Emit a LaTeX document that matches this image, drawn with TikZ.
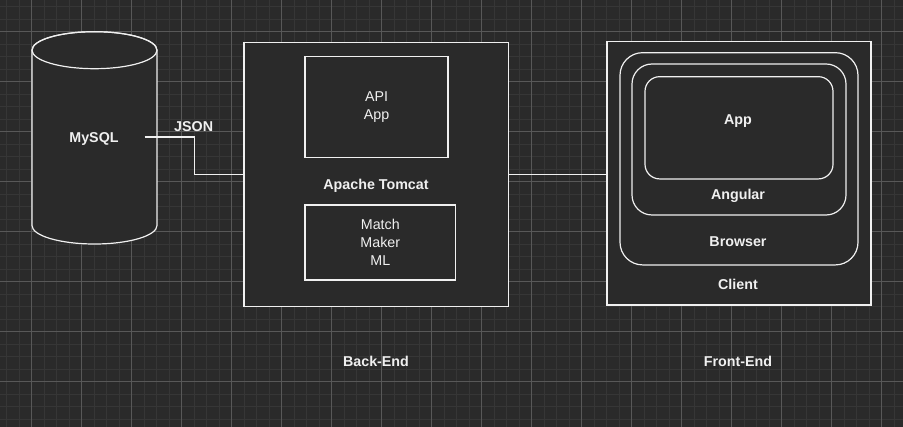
\documentclass[tikz,border=0pt]{standalone}
\usepackage{fontspec}
\setmainfont{Liberation Sans}

\definecolor{canvas}{HTML}{2A2A2A}
\definecolor{minorline}{HTML}{363636}
\definecolor{majorline}{HTML}{585858}
\definecolor{ink}{HTML}{F0F0F0}

\begin{document}
\begin{tikzpicture}[
    x=0.75pt, y=-0.75pt,
    base/.style = {rectangle, draw=ink, fill=canvas, line width=0.9pt,
inner sep=0pt, text=ink},
    box/.style = {base, font=\fontsize{10.7}{13.7}\selectfont},
    layer/.style = {base, rounded corners=#1},
    rim/.style = {x radius=46.875pt, y radius=13.875pt},
    wire/.style = {draw=ink, line width=0.9pt},
    every node/.style={font=\fontsize{10.7}{13.7}\selectfont\bfseries, text=ink}, align=center
]
  \useasboundingbox (0,0) rectangle (903,427);

  % canvas and grid
  \fill[canvas] (-10,-10) rectangle (913,437);
  \foreach \k in {0,...,72} {
    \draw[minorline, line width=0.75pt] (6.7+12.5*\k,-10) -- (6.7+12.5*\k,437);
  }
  \foreach \k in {0,...,34} {
    \draw[minorline, line width=0.75pt] (-10,6.7+12.5*\k) -- (913,6.7+12.5*\k);
  }
  \foreach \k in {0,...,17} {
    \draw[majorline, line width=0.75pt] (31.7+50*\k,-10) -- (31.7+50*\k,437);
  }
  \foreach \k in {0,...,7} {
    \draw[majorline, line width=0.75pt] (-10,31.7+50*\k) -- (913,31.7+50*\k);
  }

  % database drum
  \filldraw[fill=canvas, wire] (32,50.2) -- (32,225.5) arc[start angle=180, end angle=360, rim]
    -- (157,50.2) arc[start angle=0, end angle=180, rim] -- cycle;
  \draw[wire] (94.5,50.2) ellipse [rim];
  \node (mysql) at (94,139) {MySQL};

  \node (tomcat)  [base, minimum width=198.4pt, minimum height=197.9pt] at (376.2,174.6) {};
  \node (api)     [box, minimum width=107.25pt, minimum height=75.5pt] at (376.5,107) {API\\App};
  \node (ml)      [box, minimum width=113pt, minimum height=56.25pt] at (380.3,242.5) {Match\\Maker\\ML};
  \node (tomcatlbl) at (376,186) {Apache Tomcat};

  \node (client)  [base, minimum width=198pt, minimum height=197.5pt] at (739,173.3) {};
  \node (browser) [layer=17pt, minimum width=178.5pt, minimum height=159.2pt] at (739,158.8) {};
  \node (angular) [layer=15pt, minimum width=160.5pt, minimum height=113.25pt] at (739,139.5) {};
  \node (app)     [layer=11pt, minimum width=141pt, minimum height=76.7pt] at (739,127.8) {};
  \node (applbl)     at (738,121) {App};
  \node (angularlbl) at (738,196) {Angular};
  \node (browserlbl) at (738,242) {Browser};
  \node (clientlbl)  at (738,284) {Client};

  \node (backend)  at (376,361) {Back-End};
  \node (frontend) at (738,361) {Front-End};

  \coordinate (dbout) at ([xshift=38pt, yshift=1.5pt]mysql.center);
  \draw[wire] (dbout) -- ++(50,0) node[above, pos=0.98] (json) {JSON} |- (tomcat.west);
  \draw[wire] (tomcat.east) -- (tomcat.east -| client.west);

\end{tikzpicture}
\end{document}
